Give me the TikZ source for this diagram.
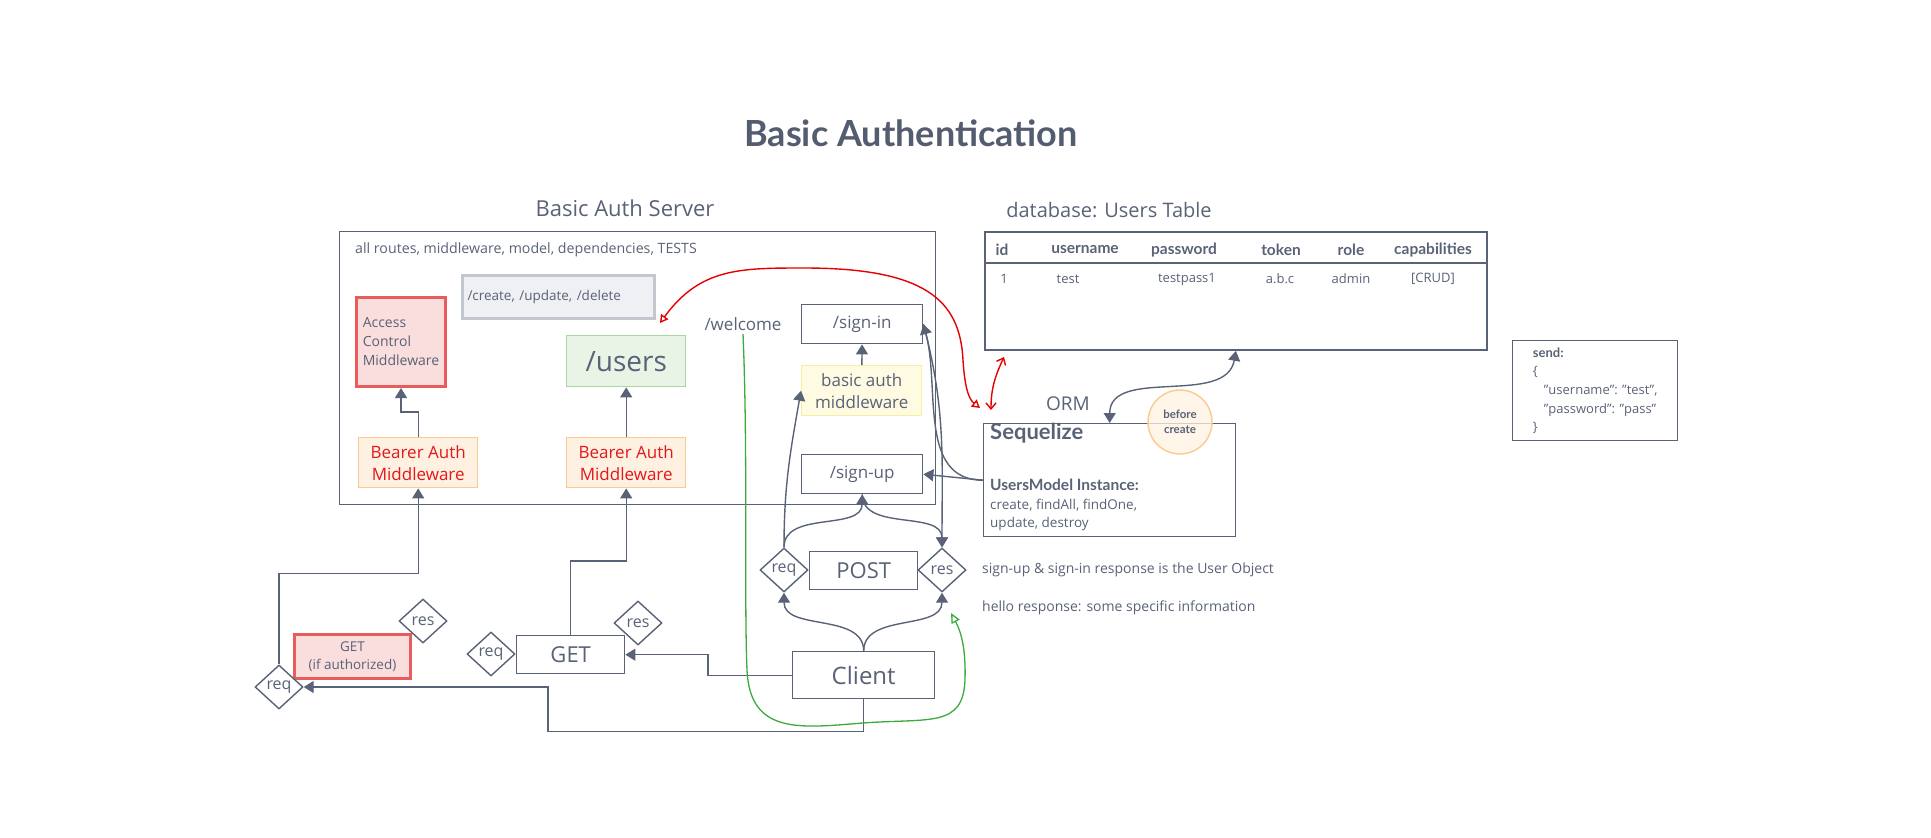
\documentclass[tikz,border=0pt]{standalone}
\usepackage{fontspec}
\setmainfont{Open Sans}[BoldFont={Lato Bold}]
\usetikzlibrary{arrows.meta,calc,positioning,shapes.geometric}
\definecolor{ink}{RGB}{89,98,118}
\definecolor{headink}{RGB}{84,92,112}
\definecolor{alarm}{RGB}{226,24,27}
\definecolor{scrawl}{RGB}{230,0,0}
\definecolor{leaf}{RGB}{60,170,60}
\definecolor{aclfill}{RGB}{250,222,222}
\definecolor{aclline}{RGB}{232,92,92}
\definecolor{bearfill}{RGB}{255,241,226}
\definecolor{bearline}{RGB}{251,202,142}
\definecolor{userfill}{RGB}{233,244,231}
\definecolor{userline}{RGB}{166,216,160}
\definecolor{basicfill}{RGB}{255,251,226}
\definecolor{basicline}{RGB}{246,238,160}
\definecolor{crudfill}{RGB}{238,240,244}
\definecolor{crudline}{RGB}{194,198,206}
\tikzset{
  box/.style={draw=#1, line width=1.4pt, inner sep=0pt, align=center, text=ink, anchor=north west},
  box/.default=ink,
  route/.style={box, fill=white, font=\fontsize{17}{20}\selectfont},
  mware/.style={box=bearline, fill=bearfill, text=alarm, minimum width=119pt, minimum height=50pt,
    font=\fontsize{17}{22}\selectfont},
  gate/.style={diamond, draw=ink, line width=1.4pt, fill=white, minimum width=48pt, minimum height=44pt,
    inner sep=0pt, text=ink, font=\fontsize{16}{18}\selectfont},
  verb/.style={box, fill=white, font=\fontsize{22}{26}\selectfont},
  note/.style={anchor=west, text=ink, inner sep=0pt, font=\fontsize{14}{16}\selectfont},
  cell/.style={text=ink, inner sep=0pt, font=\fontsize{13}{15}\selectfont},
  arr/.style={-{Triangle[length=10pt,width=12pt]}, line width=1.4pt, draw=ink},
  duplex/.style={{Triangle[length=10pt,width=12pt]}-{Triangle[length=10pt,width=12pt]}, line width=1.4pt, draw=ink},
  redpen/.style={line width=1.4pt, draw=scrawl},
  leafline/.style={line width=1.3pt, draw=leaf},
}
\begin{document}
\begin{tikzpicture}[x=1pt,y=-1pt]
  \useasboundingbox (0,0) rectangle (1931,838);

  \node[font=\fontsize{36}{40}\selectfont\bfseries, text=headink] (title) at (911,133) {Basic Authentication};

  % server side
  \node[font=\fontsize{22}{26}\selectfont, text=ink] (srvlbl) at (625,208) {Basic Auth Server};
  \node[box, minimum width=596pt, minimum height=273pt] (server) at (339,231) {};
  \node[note, font=\fontsize{14.2}{16}\selectfont] (scope) at (355,250) {all routes, middleware, model, dependencies, TESTS};
  \node[box=crudline, line width=3pt, fill=crudfill, text width=182pt, minimum height=43pt, inner xsep=5pt,
    align=left, font=\fontsize{13.5}{16}\selectfont] (crud) at (461,274) {/create, /update, /delete};
  \node[box=aclline, line width=3pt, fill=aclfill, minimum width=89pt, minimum height=89pt, align=left,
    font=\fontsize{14}{19}\selectfont] (acl) at (355,296) {Access\\Control\\Middleware};
  \node[box=userline, fill=userfill, minimum width=119pt, minimum height=51pt,
    font=\fontsize{28}{32}\selectfont] (users) at (566,335) {/users};
  \node[mware] (bearerA) at (358,437) {Bearer Auth\\Middleware};
  \node[mware] (bearerB) at (566,437) {Bearer Auth\\Middleware};
  \node[text=ink, font=\fontsize{17}{20}\selectfont] (welcome) at (743,324) {/welcome};
  \node[route, minimum width=121pt, minimum height=39pt] (signin) at (801,304) {/sign-in};
  \node[box=basicline, fill=basicfill, minimum width=120pt, minimum height=50pt,
    font=\fontsize{17}{22}\selectfont] (basic) at (801,365) {basic auth\\middleware};
  \node[route, minimum width=121pt, minimum height=39pt] (signup) at (801,454) {/sign-up};

  % database
  \node[font=\fontsize{20}{24}\selectfont, text=ink] (dblbl) at (1109,210) {database: Users Table};
  \node[box, line width=1.8pt, minimum width=502pt, minimum height=118pt] (dbtable) at (984,231) {};
  \draw[ink, line width=1.8pt] ($(dbtable.north west)+(0,32)$) -- ($(dbtable.north east)+(0,32)$);
  \foreach \hx/\head/\rx/\val in {1002/id/1004/1, 1085/username/1068/test, 1184/password/1187/testpass1,
      1281/token/1280/a.b.c, 1351/role/1351/admin, 1433/capabilities/1433/{[CRUD]}} {
    \node[cell, font=\fontsize{15.5}{17}\selectfont\bfseries] (head-\hx) at (\hx,250) {\head};
    \node[cell] (val-\hx) at (\rx,279) {\val};
  }

  \node[box, minimum width=165pt, minimum height=100pt, align=left, font=\fontsize{13}{18.7}\selectfont]
    (send) at (1512,340) {\textbf{send:}\\\{\\\hspace*{11pt}"username": "test",\\\hspace*{11pt}"password": "pass"\\\}};

  % orm
  \node[text=ink, font=\fontsize{19}{22}\selectfont] (orm) at (1068,404) {ORM};
  \node[box, minimum width=252pt, minimum height=113pt] (seq) at (983,423) {};
  \node[anchor=west, inner sep=0pt, text=ink, font=\fontsize{22}{25}\selectfont\bfseries] (seqname) at (990,433) {Sequelize};
  \node[anchor=north west, inner sep=0pt, align=left, text=ink, font=\fontsize{13.5}{18.5}\selectfont]
    (model) at (990,479) {\textbf{\fontsize{15.5}{18.5}\selectfont UsersModel Instance:}\\create, findAll, findOne,\\update, destroy};
  \node[circle, draw=bearline, line width=1.4pt, fill=bearfill, fill opacity=0.75, text opacity=1,
    minimum size=64pt, inner sep=0pt, align=center, text=ink, font=\fontsize{11.5}{15}\selectfont\bfseries]
    (hook) at (1180,422) {before\\create};

  % client requests
  \node[verb, minimum width=108pt, minimum height=38pt] (post) at (809,551) {POST};
  \node[gate] (reqP) at (784,570) {req};
  \node[gate] (resP) at (942,570) {res};
  \node[verb, minimum width=142pt, minimum height=47pt, font=\fontsize{24}{28}\selectfont] (client) at (792,651) {Client};
  \node[verb, minimum width=108pt, minimum height=38pt] (get) at (516,635) {GET};
  \node[gate] (reqG) at (491,654) {req};
  \node[gate] (resG) at (638,623) {res};
  \node[box=aclline, line width=3pt, fill=aclfill, minimum width=116pt, minimum height=44pt,
    font=\fontsize{13.5}{18}\selectfont] (getauth) at (293,633) {GET\\(if authorized)};
  \node[gate] (reqA) at (279,687) {req};
  \node[gate] (resA) at (423,621) {res};

  \node[note] (noteA) at (982,570) {sign-up \& sign-in response is the User Object};
  \node[note] (noteB) at (982,608) {hello response: some specific information};

  % connectors
  \draw[arr] (bearerA.north) -- ++(0,-25) -| (acl.south);
  \draw[arr] (bearerB) -- (users);
  \draw[arr] (basic) -- (signin);
  \draw[arr] (reqA.north) -- ++(0,-91) -| (bearerA.south);
  \draw[arr] (get.north) -- ++(0,-74) -| (bearerB.south);
  \draw[arr] (client.west) -- ++(-84,0) |- (get.east);
  \coordinate (kneeA) at (548,687);
  \draw[arr] (client.south) -- ++(0,32) -| (kneeA) -- (reqA.east);
  \draw[arr] (client.north) to[out=90,in=-90] (reqP.south);
  \draw[arr] (client.north) to[out=90,in=-90] (resP.south);
  \draw[arr] (reqP.north) to[out=90,in=-90] (signup.south);
  \draw[arr] (signup.south) to[out=-90,in=90] (resP.north);
  \draw[arr] (signin.east) to[out=-75,in=90] (resP.north);
  \draw[arr] (seq.west) to[out=180,in=-75] (signin.east);
  \draw[arr] (seq.west) -- (signup.east);
  \draw[arr] (reqP.north) to[out=90,in=-100] (basic.west);
  \draw[duplex] (dbtable.south) to[out=-100,in=90] (seq.north);

  % scribbles
  \coordinate (redA) at (660,323);
  \coordinate (redB) at (980,408);
  \draw[redpen, {Triangle[open,length=8pt,width=9pt]}-{Triangle[open,length=8pt,width=9pt]}]
    (redA) .. controls (700,268) and (740,268) .. (804,268) .. controls (925,268) and (960,300) .. (963,360)
    .. controls (965,392) and (970,400) .. (redB);
  \coordinate (redC) at (1004,357);
  \coordinate (redD) at (991,410);
  \draw[redpen, {Straight Barb[length=6pt,width=10pt]}-{Straight Barb[length=6pt,width=10pt]}]
    (redC) to[out=-115,in=90] (redD);
  \coordinate (greenend) at (951,613);
  \draw[leafline, -{Triangle[open,length=10pt,width=9pt]}] (welcome.south) .. controls (748,450) and (744,600) .. (747,670)
    .. controls (750,735) and (800,728) .. (863,723) .. controls (930,718) and (963,728) .. (965,680)
    .. controls (966,645) and (960,630) .. (greenend);
\end{tikzpicture}
\end{document}
